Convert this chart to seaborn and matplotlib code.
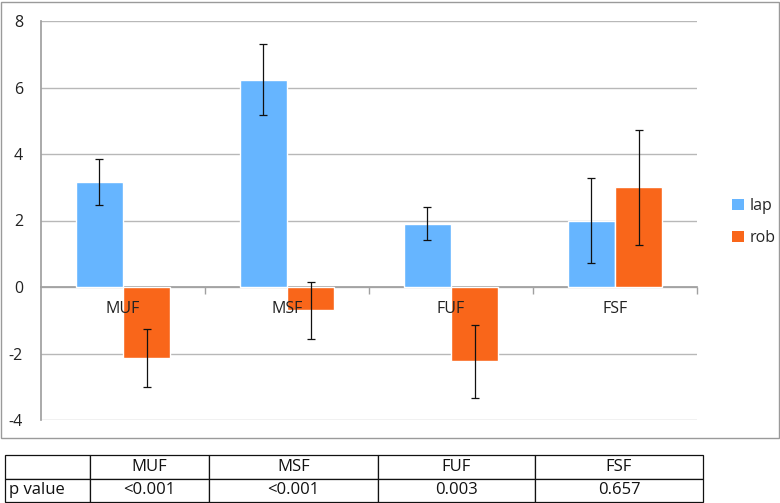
import matplotlib
matplotlib.use("Agg")
import matplotlib.pyplot as plt
import matplotlib.transforms as mtransforms
import seaborn as sns
import pandas as pd
import numpy as np
from matplotlib.patches import Rectangle, Patch

categories = ["MUF", "MSF", "FUF", "FSF"]
series = ["lap", "rob"]
lap_values = [3.17, 6.24, 1.90, 2.00]
lap_errors = [0.69, 1.08, 0.50, 1.27]
rob_values = [-2.14, -0.70, -2.24, 3.00]
rob_errors = [0.87, 0.85, 1.10, 1.73]
y_ticks = [-4, -2, 0, 2, 4, 6, 8]
table_header = ["", "MUF", "MSF", "FUF", "FSF"]
table_row = ["p value", "<0.001", "<0.001", "0.003", "0.657"]

colors = {"lap": "#66B5FF", "rob": "#F9661A"}

sns.set_theme(style="white")
plt.rcParams["font.family"] = ["Open Sans", "DejaVu Sans"]

W, H = 780, 503
fig = plt.figure(figsize=(W / 100, H / 100), dpi=100)

df = pd.DataFrame({
    "cat": categories * 2,
    "series": ["lap"] * 4 + ["rob"] * 4,
    "value": lap_values + rob_values,
    "err": lap_errors + rob_errors,
})

def px_box(x0, y0, x1, y1):
    return [x0 / W, 1 - y1 / H, (x1 - x0) / W, (y1 - y0) / H]

# outer chart frame
fig.patches.append(Rectangle((0.5 / W, 1 - 438 / H), 778 / W, 436 / H,
                             transform=fig.transFigure, fill=False,
                             edgecolor="#9a9a9a", linewidth=1.0, zorder=0))

ax = fig.add_axes(px_box(41, 21, 697, 420))
sns.barplot(data=df, x="cat", y="value", hue="series", order=categories,
            hue_order=series, palette=colors, width=0.574, errorbar=None,
            saturation=1, legend=False, ax=ax, zorder=2)

# error bars positioned from the drawn bars
for patch, (_, row) in zip(ax.patches, df.iterrows()):
    cx = patch.get_x() + patch.get_width() / 2
    ax.errorbar(cx, row["value"], yerr=row["err"], fmt="none", ecolor="#111111",
                elinewidth=0.9, capsize=3, capthick=0.9, zorder=3)

ax.set_ylim(-4, 8)
ax.set_xlim(-0.5, 3.5)
ax.set_yticks(y_ticks)
ax.set_yticklabels([str(t) for t in y_ticks], fontsize=11.5, color="#222222")
ax.yaxis.grid(True, color="#b8b8b8", linewidth=1.0)
ax.set_axisbelow(True)
ax.set_xlabel("")
ax.set_ylabel("")
for s in ["top", "right"]:
    ax.spines[s].set_visible(False)
ax.spines["left"].set_color("#a0a0a0")
ax.spines["bottom"].set_color("#a0a0a0")
ax.spines["bottom"].set_position(("data", 0))
ax.spines["bottom"].set_zorder(1)
ax.tick_params(axis="y", length=0, pad=13)
ax.set_xticks(range(len(categories)))
ax.set_xticklabels([])
ax.set_xticks([0.5, 1.5, 2.5, 3.5], minor=True)
ax.tick_params(axis="x", which="major", length=0)
ax.tick_params(axis="x", which="minor", length=5, width=1, color="#a0a0a0",
               direction="out", bottom=True)

# category labels drawn above the bars, just under the zero line
offset = mtransforms.offset_copy(ax.transData, fig=fig, x=0, y=-22, units="dots")
for i, c in enumerate(categories):
    ax.text(i, 0, c, transform=offset, ha="center", va="center",
            fontsize=11.5, color="#222222", zorder=5)

# legend
handles = [Patch(facecolor=colors[s], edgecolor="none", label=s) for s in series]
fig.legend(handles=handles, loc="center left",
           bbox_to_anchor=(718 / W, 1 - 222 / H), frameon=False, fontsize=11.5,
           handlelength=0.7, handleheight=0.7, handletextpad=0.4, labelspacing=1.0)

# p-value table
tax = fig.add_axes(px_box(5, 455, 703, 502))
tax.axis("off")
col_px = np.array([85, 119, 169, 157, 168], dtype=float)
tbl = tax.table(cellText=[table_header, table_row], cellLoc="center",
                colWidths=list(col_px / col_px.sum()), bbox=[0, 0, 1, 1])
tbl.auto_set_font_size(False)
for (r, c), cell in tbl.get_celld().items():
    cell.set_edgecolor("#111111")
    cell.set_linewidth(0.9)
    cell.get_text().set_fontsize(12)
    cell.get_text().set_color("#111111")
    if r == 1 and c == 0:
        cell.get_text().set_ha("left")
        cell.PAD = 0.05

fig.savefig("out.png", dpi=100)
